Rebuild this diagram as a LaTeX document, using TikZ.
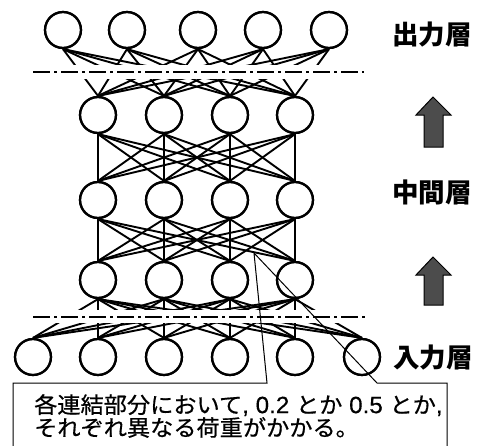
\documentclass[tikz,border=0pt]{standalone}
\usepackage{fontspec}
\newfontfamily\cjk{Noto Sans CJK JP}
\newfontfamily\cjkm[FakeBold=0.6,FakeStretch=1.04]{Noto Sans CJK JP}
\newfontfamily\lat[FakeBold=0.4,FakeStretch=1.03]{Liberation Sans}
\newcommand{\latpart}[1]{{\lat\fontsize{23.5}{21}\selectfont #1}}
\usetikzlibrary{calc}
\tikzset{
  neuron/.style={circle,draw=black,line width=2.2pt,fill=white,minimum size=36pt,inner sep=0pt},
  ring/.style={line width=2.2pt},
  conn/.style={line width=1.9pt,black},
  gapband/.style={fill=white,draw=none},
  dashdotline/.style={line width=2.3pt,dash pattern=on 17pt off 4pt on 3pt off 4pt},
  callout/.style={line width=1pt,black},
  blockarrow/.style={fill=black!70,draw=black,line width=1pt,line join=miter},
  layerlabel/.style={font=\cjk\bfseries\fontsize{26.5}{26.5}\selectfont,inner sep=0pt}
}
\begin{document}
\begin{tikzpicture}[x=1pt,y=-1pt]
\useasboundingbox (0,0) rectangle (482,445);
% nodes
\foreach \i/\x in {1/63,2/127,3/198,4/263,5/329} \node[neuron] (o\i) at (\x,30) {};
\foreach \i/\x in {1/98,2/164,3/230,4/295} {
  \node[neuron] (a\i) at (\x,115) {};
  \node[neuron] (b\i) at (\x,200) {};
  \node[neuron] (c\i) at (\x,280) {};
}
\foreach \i/\x in {1/33,2/98,3/164,4/230,5/295,6/362} \node[neuron] (n\i) at (\x,357) {};
% connections
\foreach \i in {1,...,5} \foreach \j in {1,...,4} \draw[conn] (o\i.south) -- (a\j.north);
\foreach \i in {1,...,4} \foreach \j in {1,...,4} {
  \draw[conn] (a\i.south) -- (b\j.north);
  \draw[conn] (b\i.south) -- (c\j.north);
}
\foreach \i in {1,...,4} \foreach \j in {1,...,6} \draw[conn] (c\i.south) -- (n\j.north);
% gaps and dash-dot lines
\fill[gapband] (20,65) rectangle (380,79);
\fill[gapband] (10,310) rectangle (385,323);
\coordinate (d1a) at (33,72); \coordinate (d1b) at (364,72);
\coordinate (d2a) at (33,317); \coordinate (d2b) at (366,317);
\draw[dashdotline] (d1a) -- (d1b);
\draw[dashdotline] (d2a) -- (d2b);
% redraw circles on top
\foreach \i in {1,...,5} \draw[ring] (o\i) circle (18pt);
\foreach \i in {1,...,4} {\draw[ring] (a\i) circle (18pt); \draw[ring] (b\i) circle (18pt); \draw[ring] (c\i) circle (18pt);}
\foreach \i in {1,...,6} \draw[ring] (n\i) circle (18pt);
% callout
\coordinate (apex) at (254,253);
\coordinate (bl) at (13,450);
\coordinate (tl) at (13,383);
\coordinate (k1) at (267,383);
\coordinate (k2) at (377,383);
\coordinate (tr) at (447,383);
\coordinate (br) at (447,450);
\draw[callout] (bl) -- (tl) -- (k1) -- (apex) -- (k2) -- (tr) -- (br);
\node[anchor=north west,align=left,inner sep=0pt,font=\cjkm\fontsize{22.3}{21}\selectfont] (note) at (34,394)
  {各連結部分において\latpart{, 0.2 }とか\latpart{\ 0.5 }とか\latpart{,}\\それぞれ異なる荷重がかかる。};
% labels
\node[layerlabel] (lout) at (432,35) {出力層};
\node[layerlabel] (lmid) at (432,192) {中間層};
\node[layerlabel] (lin) at (433,358) {入力層};
% arrows
\draw[blockarrow] (433,97) -- (451,115) -- (443,115) -- (443,147) -- (424,147) -- (424,115) -- (416,115) -- cycle;
\draw[blockarrow] (433,257) -- (451,275) -- (443,275) -- (443,305) -- (424,305) -- (424,275) -- (416,275) -- cycle;
\end{tikzpicture}
\end{document}
